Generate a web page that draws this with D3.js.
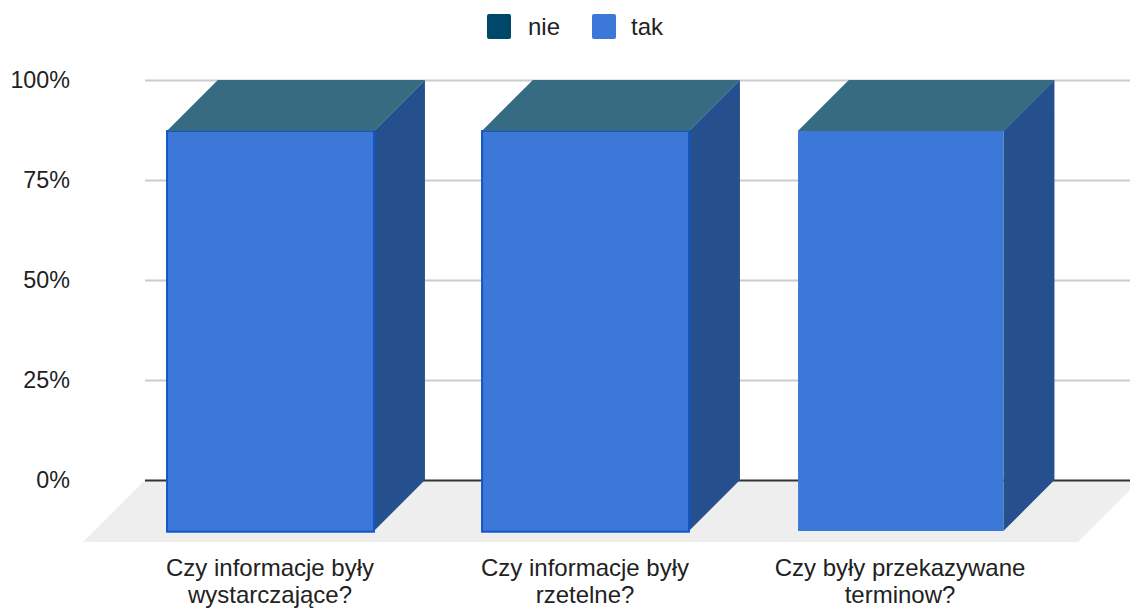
<html>
<head>
  <meta charset="utf-8">
  <script src="https://d3js.org/d3.v7.min.js"></script>
  <style>
    body{
      margin: 0;
      overflow: hidden;
      background: #fff;
    }
    svg{
      display: block;
      font-family: "Liberation Sans", Arial, sans-serif;
    }
    .yAxis .domain{
      display: none;
    }
  </style>
</head>
<body>
  <script type="text/javascript">

    var categories = [
      ["Czy informacje były", "wystarczające?"],
      ["Czy informacje były", "rzetelne?"],
      ["Czy były przekazywane", "terminow?"]
    ];
    var nie = [0, 0, 0];
    var tak = [100, 100, 100];
    var yTicks = [0, 25, 50, 75, 100];
    var legendNames = ["nie", "tak"];

    var screen = {width: 1130, height: 608};
    var depth = 51;

    var svg = d3.select("body").append("svg")
      .attr("width", screen.width)
      .attr("height", screen.height);

    // scale
    var xScale = d3.scaleBand()
      .domain(d3.range(categories.length))
      .range([112.5, 1057.5])
      .paddingInner(0.34)
      .paddingOuter(0.17);
    var yScale = d3.scaleLinear()
      .domain([0, 100])
      .range([480, 80]);

    var colors = {
      nie: {legend: "#00486a", front: "#00486a", side: "#00354d", top: "#366b82"},
      tak: {legend: "#3c78d8", front: "#3c78d8", side: "#264f8e", top: "#3c78d8"}
    };

    // floor
    var floorDrop = 62;
    svg.append("path")
      .attr("fill", "#eeeeee")
      .attr("d", d3.line()([
        [145, yScale(0)],
        [1140, yScale(0)],
        [1140 - floorDrop, yScale(0) + floorDrop],
        [145 - floorDrop, yScale(0) + floorDrop]
      ]) + "Z");

    // grid lines and tick labels
    var yAxis = d3.axisLeft(yScale)
      .tickValues(yTicks)
      .tickFormat(function(d){return d + "%"})
      .tickSize(-(screen.width - 145))
      .tickPadding(75);

    var yAxisG = svg.append("g").classed("yAxis", true)
      .attr("transform", "translate(145,0)")
      .call(yAxis);

    yAxisG.selectAll(".tick line")
      .attr("stroke", function(d){return d === 0 ? "#333333" : "#cccccc"})
      .attr("stroke-width", 2);

    yAxisG.selectAll(".tick text")
      .attr("font-size", 23.3)
      .attr("font-family", "Liberation Sans")
      .attr("fill", "#222222");

    // stacked boxes
    var rows = categories.map(function(c, i){return {index: i, tak: tak[i], nie: nie[i]}});
    var stacked = d3.stack().keys(["tak", "nie"])(rows);

    var bars = svg.selectAll("g.bar")
      .data(d3.range(categories.length))
      .enter()
      .append("g")
      .classed("bar", true);

    bars.each(function(i){
      var g = d3.select(this);
      // only the first two boxes carry the darker outline
      var outlined = i < 2;
      var x0 = xScale(i) + (outlined ? 1 : 2);
      var x1 = xScale(i) + xScale.bandwidth() - (outlined ? 0 : 0.5);

      stacked.forEach(function(s){
        var yLow = yScale(s[i][0]) + depth;
        var yHigh = yScale(s[i][1]) + depth;
        var c = colors[s.key];

        g.append("path")
          .attr("fill", c.side)
          .attr("d", d3.line()([[x1, yLow], [x1 + depth, yLow - depth], [x1 + depth, yHigh - depth], [x1, yHigh]]) + "Z");

        g.append("path")
          .attr("fill", c.top)
          .attr("d", d3.line()([[x0, yHigh], [x0 + depth, yHigh - depth], [x1 + depth, yHigh - depth], [x1, yHigh]]) + "Z");

        if (s[i][1] > s[i][0]) {
          g.append("rect")
            .attr("x", x0)
            .attr("y", yHigh)
            .attr("width", x1 - x0)
            .attr("height", yLow - yHigh + (outlined ? 0.7 : 0))
            .attr("fill", c.front)
            .attr("stroke", outlined ? "#1155cc" : "none")
            .attr("stroke-width", outlined ? 2 : 0);
        }
      });
    });

    // category labels
    var labels = svg.selectAll("text.cat")
      .data(categories)
      .enter()
      .append("text")
      .classed("cat", true)
      .attr("text-anchor", "middle")
      .attr("font-size", 24)
      .attr("fill", "#222222")
      .attr("transform", function(d, i){
        return "translate(" + (xScale(i) + xScale.bandwidth() / 2) + ",576)";
      });

    labels.selectAll("tspan")
      .data(function(d){return d})
      .enter()
      .append("tspan")
      .attr("x", 0)
      .attr("y", function(d, i){return i * 27})
      .text(function(d){return d});

    // legend
    var legendX = d3.scaleOrdinal().domain(legendNames).range([487, 592]);

    var legend = svg.selectAll("g.legend")
      .data(legendNames)
      .enter()
      .append("g")
      .classed("legend", true)
      .attr("transform", function(d){return "translate(" + legendX(d) + ",14)"});

    legend.append("rect")
      .attr("width", 24)
      .attr("height", 25)
      .attr("rx", 2)
      .attr("fill", function(d){return colors[d].legend});

    legend.append("text")
      .attr("x", function(d, i){return i === 0 ? 41 : 39})
      .attr("y", 21)
      .attr("font-size", 24)
      .attr("fill", "#222222")
      .text(function(d){return d});

  </script>
</body>
</html>
